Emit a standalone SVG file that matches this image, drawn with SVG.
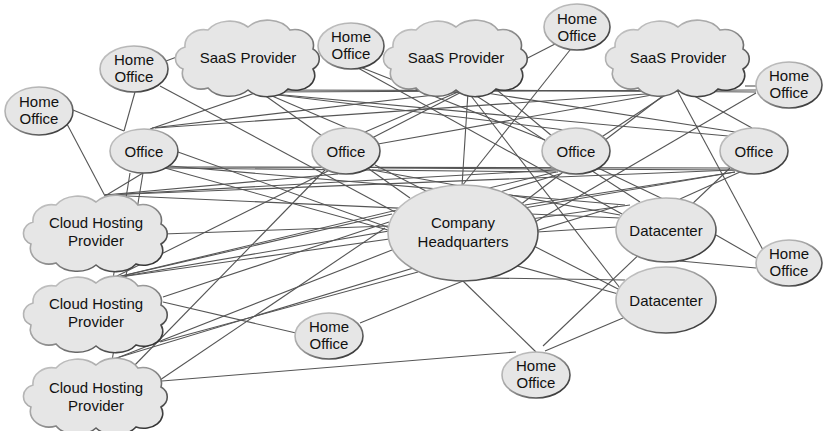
<svg xmlns="http://www.w3.org/2000/svg" xmlns:xlink="http://www.w3.org/1999/xlink" width="823" height="431" viewBox="0 0 823 431">
<defs>
<linearGradient id="edge" x1="0" y1="0" x2="1" y2="1">
<stop offset="0" stop-color="#cccccc"/>
<stop offset="0.45" stop-color="#a0a0a0"/>
<stop offset="1" stop-color="#1a1a1a"/>
</linearGradient>
<path id="cloud" d="M -63,-10 A 19 16 0 0 1 -40,-27 A 26 20 0 0 1 0,-30 A 26 20 0 0 1 42,-27 A 19 16 0 0 1 65,-8 A 14 12 0 0 1 65,12 A 19 15 0 0 1 40,32 A 24 16 0 0 1 0,33 A 24 16 0 0 1 -40,31 A 19 16 0 0 1 -65,12 A 14 12 0 0 1 -63,-10 Z"/>
</defs>
<style>
.n{fill:#e6e6e6;stroke:url(#edge);stroke-width:1.6}
.t{font-family:"Liberation Sans",Arial,Helvetica,sans-serif;font-size:15px;fill:#111;text-anchor:middle}
#links line{stroke:#555;stroke-width:1.1}
</style>
<g id="links">
<line x1="73" y1="110" x2="124" y2="131"/>
<line x1="67" y1="124" x2="105" y2="196"/>
<line x1="166" y1="61" x2="182" y2="55"/>
<line x1="135" y1="92" x2="124" y2="131"/>
<line x1="160" y1="86" x2="395" y2="212"/>
<line x1="150" y1="129" x2="258" y2="92"/>
<line x1="262" y1="90" x2="680" y2="91"/>
<line x1="262" y1="92" x2="756" y2="90"/>
<line x1="262" y1="93" x2="565" y2="130"/>
<line x1="262" y1="93" x2="728" y2="136"/>
<line x1="265" y1="93" x2="347" y2="128"/>
<line x1="260" y1="92" x2="410" y2="198"/>
<line x1="152" y1="128" x2="460" y2="92"/>
<line x1="155" y1="128" x2="675" y2="92"/>
<line x1="360" y1="67" x2="545" y2="140"/>
<line x1="358" y1="68" x2="622" y2="214"/>
<line x1="458" y1="92" x2="365" y2="132"/>
<line x1="468" y1="92" x2="462" y2="186"/>
<line x1="497" y1="90" x2="552" y2="136"/>
<line x1="480" y1="92" x2="735" y2="132"/>
<line x1="472" y1="93" x2="640" y2="202"/>
<line x1="480" y1="90" x2="756" y2="92"/>
<line x1="468" y1="92" x2="620" y2="288"/>
<line x1="570" y1="50" x2="462" y2="186"/>
<line x1="555" y1="44" x2="372" y2="138"/>
<line x1="680" y1="90" x2="378" y2="144"/>
<line x1="670" y1="92" x2="600" y2="138"/>
<line x1="687" y1="92" x2="752" y2="128"/>
<line x1="678" y1="92" x2="763" y2="250"/>
<line x1="745" y1="86" x2="756" y2="86"/>
<line x1="668" y1="92" x2="520" y2="205"/>
<line x1="756" y1="93" x2="535" y2="222"/>
<line x1="178" y1="152" x2="390" y2="228"/>
<line x1="165" y1="168" x2="558" y2="172"/>
<line x1="168" y1="167" x2="730" y2="168"/>
<line x1="170" y1="166" x2="625" y2="205"/>
<line x1="165" y1="168" x2="622" y2="295"/>
<line x1="143" y1="173" x2="105" y2="196"/>
<line x1="130" y1="173" x2="113" y2="279"/>
<line x1="143" y1="173" x2="112" y2="361"/>
<line x1="105" y1="195" x2="338" y2="174"/>
<line x1="105" y1="195" x2="556" y2="170"/>
<line x1="105" y1="195" x2="734" y2="170"/>
<line x1="105" y1="195" x2="620" y2="218"/>
<line x1="163" y1="234" x2="388" y2="226"/>
<line x1="113" y1="278" x2="328" y2="171"/>
<line x1="113" y1="278" x2="392" y2="214"/>
<line x1="113" y1="278" x2="556" y2="172"/>
<line x1="113" y1="278" x2="630" y2="205"/>
<line x1="163" y1="297" x2="389" y2="222"/>
<line x1="163" y1="302" x2="296" y2="333"/>
<line x1="160" y1="342" x2="418" y2="272"/>
<line x1="132" y1="368" x2="325" y2="170"/>
<line x1="112" y1="360" x2="392" y2="250"/>
<line x1="160" y1="380" x2="385" y2="228"/>
<line x1="162" y1="381" x2="516" y2="352"/>
<line x1="110" y1="360" x2="618" y2="206"/>
<line x1="360" y1="323" x2="463" y2="281"/>
<line x1="463" y1="281" x2="536" y2="352"/>
<line x1="545" y1="351" x2="623" y2="318"/>
<line x1="543" y1="346" x2="730" y2="168"/>
<line x1="537" y1="232" x2="617" y2="227"/>
<line x1="487" y1="278" x2="625" y2="280"/>
<line x1="716" y1="235" x2="756" y2="258"/>
<line x1="680" y1="261" x2="756" y2="268"/>
<line x1="737" y1="170" x2="378" y2="168"/>
<line x1="735" y1="172" x2="525" y2="205"/>
<line x1="740" y1="172" x2="680" y2="199"/>
<line x1="735" y1="172" x2="113" y2="278"/>
<line x1="598" y1="168" x2="663" y2="199"/>
<line x1="560" y1="174" x2="500" y2="192"/>
<line x1="372" y1="170" x2="620" y2="215"/>
<line x1="375" y1="165" x2="620" y2="290"/>
</g>
<g id="hoA"><ellipse class="n" cx="39" cy="111" rx="34" ry="24"/><text class="t" x="39" y="107">Home</text><text class="t" x="39" y="124">Office</text></g>
<g id="hoB"><ellipse class="n" cx="134" cy="69" rx="34" ry="23"/><text class="t" x="134" y="65">Home</text><text class="t" x="134" y="82">Office</text></g>
<g id="saas1"><use class="n" href="#cloud" x="248" y="57"/><text class="t" x="248" y="63">SaaS Provider</text></g>
<g id="hoC"><ellipse class="n" cx="351" cy="46" rx="33" ry="23"/><text class="t" x="351" y="42">Home</text><text class="t" x="351" y="59">Office</text></g>
<g id="saas2"><use class="n" href="#cloud" x="456" y="57"/><text class="t" x="456" y="63">SaaS Provider</text></g>
<g id="hoD"><ellipse class="n" cx="577" cy="27" rx="33" ry="23"/><text class="t" x="577" y="24">Home</text><text class="t" x="577" y="41">Office</text></g>
<g id="saas3"><use class="n" href="#cloud" x="678" y="57"/><text class="t" x="678" y="63">SaaS Provider</text></g>
<g id="hoE"><ellipse class="n" cx="789" cy="85" rx="33" ry="23"/><text class="t" x="789" y="81">Home</text><text class="t" x="789" y="98">Office</text></g>
<g id="off1"><ellipse class="n" cx="144" cy="151" rx="34" ry="22"/><text class="t" x="144" y="157">Office</text></g>
<g id="off2"><ellipse class="n" cx="346" cy="151" rx="34" ry="23"/><text class="t" x="346" y="157">Office</text></g>
<g id="off3"><ellipse class="n" cx="576" cy="151" rx="34" ry="23"/><text class="t" x="576" y="157">Office</text></g>
<g id="off4"><ellipse class="n" cx="754" cy="151" rx="34" ry="23"/><text class="t" x="754" y="157">Office</text></g>
<g id="hq"><ellipse class="n" cx="463" cy="233" rx="75" ry="48"/><text class="t" x="463" y="228">Company</text><text class="t" x="463" y="247">Headquarters</text></g>
<g id="dc1"><ellipse class="n" cx="666" cy="230" rx="50" ry="32"/><text class="t" x="666" y="236">Datacenter</text></g>
<g id="dc2"><ellipse class="n" cx="666" cy="300" rx="50" ry="33"/><text class="t" x="666" y="306">Datacenter</text></g>
<g id="hoF"><ellipse class="n" cx="789" cy="263" rx="33" ry="23"/><text class="t" x="789" y="259">Home</text><text class="t" x="789" y="276">Office</text></g>
<g id="hoG"><ellipse class="n" cx="329" cy="336" rx="34" ry="23"/><text class="t" x="329" y="332">Home</text><text class="t" x="329" y="349">Office</text></g>
<g id="hoH"><ellipse class="n" cx="536" cy="375" rx="34" ry="23"/><text class="t" x="536" y="371">Home</text><text class="t" x="536" y="388">Office</text></g>
<g id="ch1"><use class="n" href="#cloud" x="96" y="232"/><text class="t" x="96" y="228">Cloud Hosting</text><text class="t" x="96" y="246">Provider</text></g>
<g id="ch2"><use class="n" href="#cloud" x="96" y="313"/><text class="t" x="96" y="309">Cloud Hosting</text><text class="t" x="96" y="327">Provider</text></g>
<g id="ch3"><use class="n" href="#cloud" x="96" y="395"/><text class="t" x="96" y="393">Cloud Hosting</text><text class="t" x="96" y="411">Provider</text></g>
</svg>
